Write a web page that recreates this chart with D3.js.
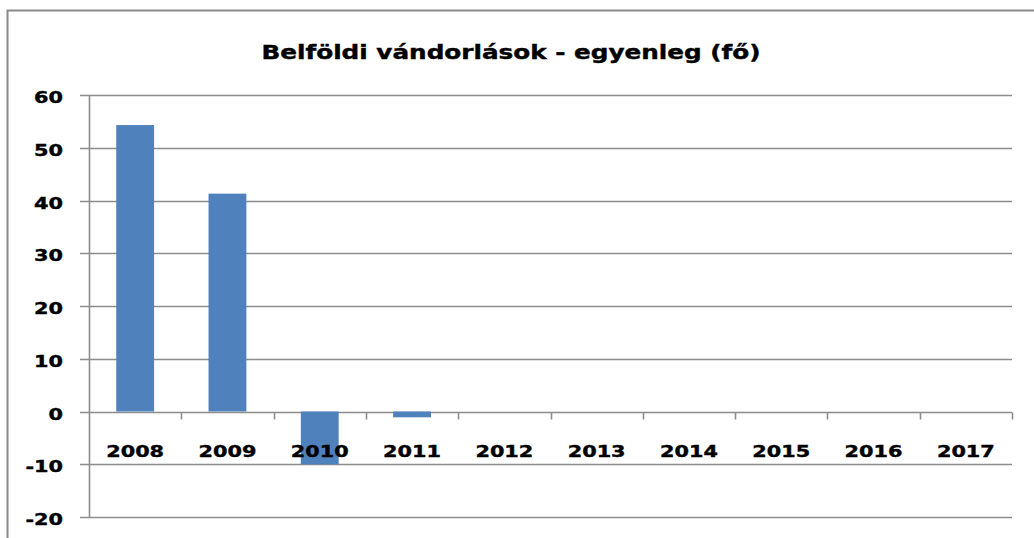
<!DOCTYPE html>
<html>
<head>
<meta charset="utf-8">
<script src="https://cdn.jsdelivr.net/npm/d3@7"></script>
<style>
  body { margin: 0; background: #fff; }
  svg { display: block; }
  text { font-family: "DejaVu Sans", Verdana, sans-serif; font-weight: bold; fill: #000; stroke: #000; stroke-width: 0.4; }
</style>
</head>
<body>
<svg id="chart" width="1034" height="538"></svg>
<script>
// data
var years = ["2008", "2009", "2010", "2011", "2012", "2013", "2014", "2015", "2016", "2017"];
var values = [54.3, 41.3, -10, -1.1, 0, 0, 0, 0, 0, 0];
var yTicks = [-20, -10, 0, 10, 20, 30, 40, 50, 60];
var title = "Belföldi vándorlások - egyenleg (fő)";

var svg = d3.select("#chart");
var W = 1034, H = 538;
var plot = { left: 89, right: 1012, top: 95, bottom: 517 };
var grid = "#8c8c8c";
var stretch = 1.3; // the original lettering is wide and chunky

// outer chart frame (only top & left show in crop)
svg.append("path")
  .attr("d", "M7.5," + H + "V10.5H" + W)
  .attr("fill", "none")
  .attr("stroke", "#8a8a8a")
  .attr("stroke-width", 2);

var x = d3.scaleBand().domain(years).range([plot.left, plot.right]).paddingInner(0.59).paddingOuter(0.295);
var xc = d3.scaleBand().domain(years).range([plot.left, plot.right]);
var y = d3.scaleLinear().domain([-20, 60]).range([plot.bottom, plot.top]);

// horizontal gridlines
svg.append("g").selectAll("line").data(yTicks).join("line")
  .attr("x1", plot.left - 9).attr("x2", plot.right)
  .attr("y1", function (d) { return Math.round(y(d)) + 0.5; })
  .attr("y2", function (d) { return Math.round(y(d)) + 0.5; })
  .attr("stroke", grid).attr("stroke-width", 1.6);

// bars
svg.append("g").selectAll("rect").data(values).join("rect")
  .attr("x", function (d, i) { return x(years[i]); })
  .attr("width", x.bandwidth())
  .attr("y", function (d) { return y(Math.max(0, d)); })
  .attr("height", function (d) { return Math.abs(y(d) - y(0)); })
  .attr("fill", "#4f81bd");

// vertical axis line
svg.append("line")
  .attr("x1", plot.left + 0.5).attr("x2", plot.left + 0.5)
  .attr("y1", plot.top).attr("y2", plot.bottom + 1)
  .attr("stroke", grid).attr("stroke-width", 1.6);

// category axis at zero
var zeroY = Math.round(y(0)) + 0.5;
svg.append("g").selectAll("line").data(years).join("line")
  .attr("x1", function (d) { return Math.round(xc(d) + xc.bandwidth()) + 0.5; })
  .attr("x2", function (d) { return Math.round(xc(d) + xc.bandwidth()) + 0.5; })
  .attr("y1", zeroY).attr("y2", zeroY + 7)
  .attr("stroke", grid).attr("stroke-width", 1.6);

svg.append("g").selectAll("text").data(years).join("text")
  .attr("transform", function (d) {
    return "translate(" + (xc(d) + xc.bandwidth() / 2) + "," + (zeroY + 44) + ") scale(" + stretch + ",1)";
  })
  .attr("text-anchor", "middle")
  .attr("font-size", 16)
  .text(function (d) { return d; });

// y labels
svg.append("g").selectAll("text").data(yTicks).join("text")
  .attr("transform", function (d) { return "translate(63," + (y(d) + 8) + ") scale(" + stretch + ",1)"; })
  .attr("text-anchor", "end")
  .attr("font-size", 16)
  .text(function (d) { return d; });

// title
svg.append("text")
  .attr("transform", "translate(511,59) scale(" + stretch + ",1)")
  .attr("text-anchor", "middle")
  .attr("font-size", 19)
  .text(title);
</script>
</body>
</html>
